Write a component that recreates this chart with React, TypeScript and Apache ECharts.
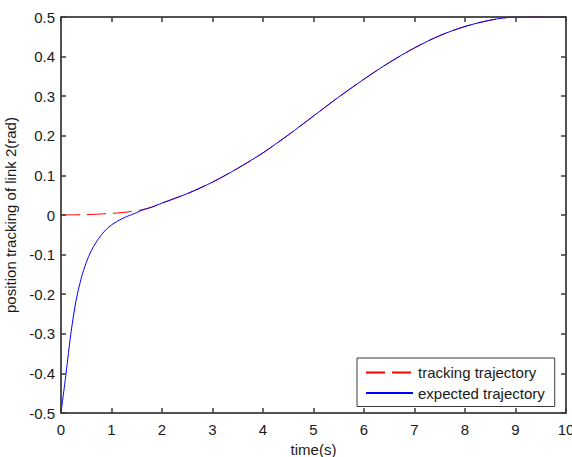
import React, { useEffect, useRef } from "react";
import * as echarts from "echarts";

const trackingTime = [0, 0.5, 1, 1.2, 1.4, 1.6, 1.8, 2, 2.5, 3, 3.5, 4, 4.5, 5, 5.5, 6, 6.5, 7, 7.5, 8, 8.5, 9, 9.5, 10];
const trackingValues = [0, 0.001, 0.004, 0.006, 0.009, 0.013, 0.02, 0.03, 0.054, 0.083, 0.118, 0.157, 0.202, 0.25, 0.298, 0.343, 0.385, 0.422, 0.453, 0.476, 0.492, 0.5, 0.5, 0.5];

const expectedTime = [0, 0.1, 0.2, 0.3, 0.4, 0.5, 0.6, 0.7, 0.8, 0.9, 1.0, 1.1, 1.2, 1.3, 1.4, 1.5, 1.6, 1.7, 1.8, 1.9, 2, 2.5, 3, 3.5, 4, 4.5, 5, 5.5, 6, 6.5, 7, 7.5, 8, 8.5, 9, 9.5, 10];
const expectedValues = [-0.5, -0.4, -0.295, -0.215, -0.16, -0.12, -0.09, -0.068, -0.05, -0.036, -0.025, -0.017, -0.01, -0.004, 0.001, 0.006, 0.012, 0.016, 0.02, 0.025, 0.03, 0.054, 0.083, 0.118, 0.157, 0.202, 0.25, 0.298, 0.343, 0.385, 0.422, 0.453, 0.476, 0.492, 0.5, 0.5, 0.5];

const xTicks = [0, 1, 2, 3, 4, 5, 6, 7, 8, 9, 10];
const yTicks = [-0.5, -0.4, -0.3, -0.2, -0.1, 0, 0.1, 0.2, 0.3, 0.4, 0.5];

const FONT = "Liberation Sans";
const AXIS_COLOR = "#3a3a3a";
const TEXT_COLOR = "#1a1a1a";

export default function App() {
  const ref = useRef<HTMLDivElement>(null);
  useEffect(() => {
    if (!ref.current) return;
    const chart = echarts.init(ref.current, undefined, { renderer: "svg" });
    const tickCommon = () => ({ show: true, inside: true, length: 5, lineStyle: { color: AXIS_COLOR, width: 1.5 } });
    const lineCommon = () => ({ show: true, onZero: false, lineStyle: { color: AXIS_COLOR, width: 1.5 } });
    chart.setOption({
      animation: false,
      backgroundColor: "#ffffff",
      textStyle: { fontFamily: FONT },
      grid: {
        left: 61,
        right: 6,
        top: 17,
        bottom: 44,
        containLabel: false,
        outerBoundsMode: "none",
        show: true,
        borderColor: AXIS_COLOR,
        borderWidth: 1,
        backgroundColor: "transparent",
      },
      legend: {
        orient: "vertical",
        left: 357,
        top: 358,
        itemWidth: 47,
        itemHeight: 14,
        itemGap: 5.5,
        padding: [7, 10, 6, 8],
        borderColor: AXIS_COLOR,
        borderWidth: 1,
        backgroundColor: "#ffffff",
        itemStyle: { opacity: 0 },
        textStyle: { fontFamily: FONT, fontSize: 15, color: TEXT_COLOR },
        data: ["tracking trajectory", "expected trajectory"],
      },
      xAxis: [
        {
          type: "value",
          position: "bottom",
          z: 5,
          min: 0,
          max: 10,
          interval: 1,
          name: "time(s)",
          nameLocation: "middle",
          nameGap: 17,
          nameTextStyle: { fontFamily: FONT, fontSize: 15, color: TEXT_COLOR },
          axisLine: lineCommon(),
          axisTick: tickCommon(),
          splitLine: { show: false },
          axisLabel: {
            fontFamily: FONT,
            fontSize: 15,
            color: TEXT_COLOR,
            margin: 9,
            formatter: (v: number) => (xTicks.includes(v) ? String(v) : ""),
          },
        },
        {
          type: "value",
          position: "top",
          z: 5,
          min: 0,
          max: 10,
          interval: 1,
          axisLine: lineCommon(),
          axisTick: tickCommon(),
          axisLabel: { show: false },
          splitLine: { show: false },
        },
      ],
      yAxis: [
        {
          type: "value",
          position: "left",
          z: 5,
          min: -0.5,
          max: 0.5,
          interval: 0.1,
          name: "position tracking of link 2(rad)",
          nameLocation: "middle",
          nameGap: 40,
          nameTextStyle: { fontFamily: FONT, fontSize: 15, color: TEXT_COLOR },
          axisLine: lineCommon(),
          axisTick: tickCommon(),
          splitLine: { show: false },
          axisLabel: {
            fontFamily: FONT,
            fontSize: 15,
            color: TEXT_COLOR,
            margin: 6,
            formatter: (v: number) => {
              const r = Math.round(v * 10) / 10;
              const t = yTicks.find((y) => Math.abs(y - r) < 1e-9);
              return t === undefined ? "" : String(t);
            },
          },
        },
        {
          type: "value",
          position: "right",
          z: 5,
          min: -0.5,
          max: 0.5,
          interval: 0.1,
          axisLine: lineCommon(),
          axisTick: tickCommon(),
          axisLabel: { show: false },
          splitLine: { show: false },
        },
      ],
      series: [
        {
          name: "tracking trajectory",
          type: "line",
          xAxisIndex: 0,
          yAxisIndex: 0,
          showSymbol: false,
          symbol: "none",
          smooth: 0.3,
          lineStyle: { color: "#ff0000", width: 1, type: [19, 7] },
          itemStyle: { color: "#ff0000" },
          data: trackingTime.map((t, i) => [t, trackingValues[i]]),
        },
        {
          name: "expected trajectory",
          type: "line",
          xAxisIndex: 0,
          yAxisIndex: 0,
          showSymbol: false,
          symbol: "none",
          smooth: 0.3,
          lineStyle: { color: "#0000ff", width: 1, type: "solid" },
          itemStyle: { color: "#0000ff" },
          data: expectedTime.map((t, i) => [t, expectedValues[i]]),
        },
      ],
    });
    return () => chart.dispose();
  }, []);
  return (
    <div
      ref={ref}
      style={{ position: "fixed", left: 0, top: 0, width: 572, height: 457, background: "#fff" }}
    />
  );
}
